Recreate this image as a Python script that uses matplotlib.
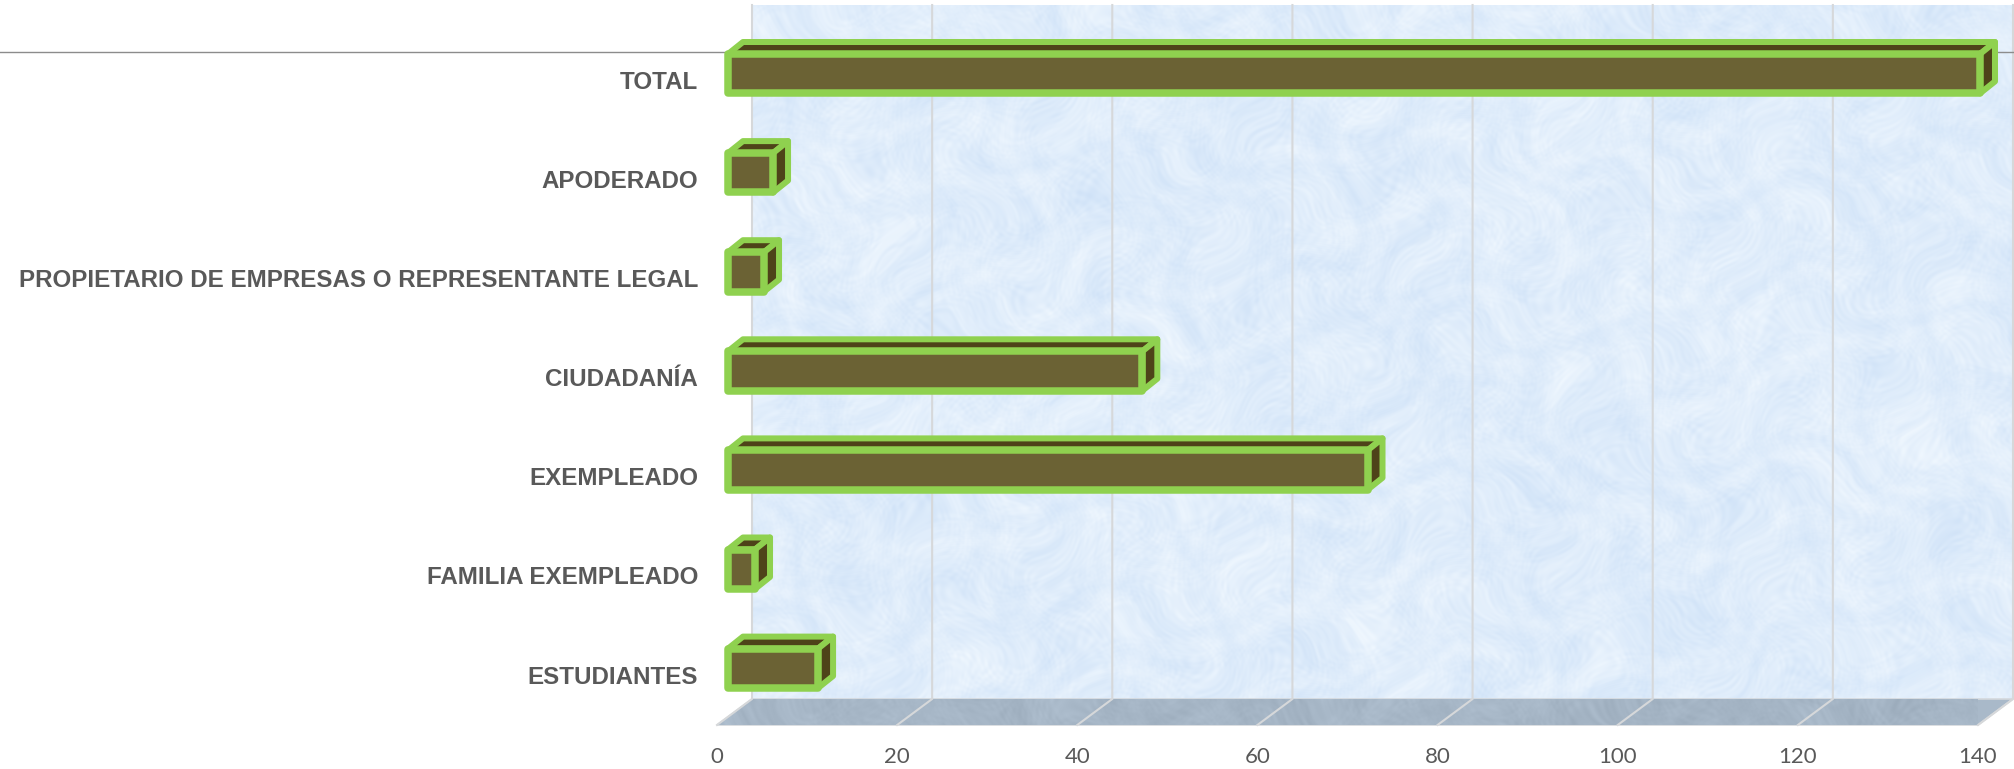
import numpy as np
import matplotlib
matplotlib.use("Agg")
import matplotlib.pyplot as plt
from matplotlib.patches import Polygon
from matplotlib.font_manager import FontProperties

categories = ["ESTUDIANTES", "FAMILIA EXEMPLEADO", "EXEMPLEADO", "CIUDADANÍA",
              "PROPIETARIO DE EMPRESAS O REPRESENTANTE LEGAL", "APODERADO", "TOTAL"]
values = [10, 3, 71, 46, 4, 5, 139]
x_ticks = [0, 20, 40, 60, 80, 100, 120, 140]

W, H = 2015, 769
fig = plt.figure(figsize=(W / 100, H / 100), dpi=100, facecolor="white")
# plot region: front edge of the floor
L, R, B, T = 717, 1978, 725, 5
ax = fig.add_axes([L / W, 1 - B / H, (R - L) / W, (B - T) / H])
px_x = (R - L) / 140
px_y = 99.1
y_bot = -(B - 677.0) / px_y
y_top = 6 + (82.4 - T) / px_y
for s in ax.spines.values():
    s.set_visible(False)
ax.patch.set_visible(False)

wall_dx = 35 / px_x
wall_dy = 26 / px_y
wall_right = (2012 - L) / px_x


def smooth(a, k):
    """Box blur along both image axes."""
    ker = np.ones(k) / k
    a = np.apply_along_axis(lambda r: np.convolve(r, ker, mode="same"), 0, a)
    return np.apply_along_axis(lambda r: np.convolve(r, ker, mode="same"), 1, a)


def mottle(h, w):
    """Decorative paper-like mottling from warped sine waves (deterministic)."""
    pad = 12
    yy, xx = np.mgrid[0:h + 2 * pad, 0:w + 2 * pad].astype(float)
    wx = xx + 18 * np.sin(yy * .043 + 1.1) + 11 * np.sin(xx * .061 - yy * .027)
    wy = yy + 18 * np.sin(xx * .037 + .4) + 11 * np.sin(yy * .071 + xx * .023)
    blot = (np.sin(wx * .041 + 4 * np.sin(wy * .019)) * np.sin(wy * .047 + 4 * np.sin(wx * .017 + 2))
            + .8 * np.sin(wx * .113 + 3 * np.sin(wy * .073)) * np.sin(wy * .097 + 3 * np.sin(wx * .061)))
    fine = (np.sin(wx * .37 + 3 * np.sin(wy * .23)) * np.sin(wy * .41 + 3 * np.sin(wx * .27))
            + np.sin(wx * .71 + wy * .53) * np.sin(wy * .83 - wx * .37))
    blot = smooth(blot, 9)
    fine = smooth(fine, 3)
    return (blot / np.abs(blot).max())[pad:-pad, pad:-pad], (fine / np.abs(fine).max())[pad:-pad, pad:-pad]


h_px, w_px = B - 26 - T, 2012 - 752
m, fine = mottle(h_px, w_px)
base = np.array([224, 237, 251]) / 255
tex = (base[None, None, :] + m[..., None] * (np.array([11, 7, 2]) / 255)[None, None, :]
       + fine[..., None] * (np.array([7, 5, 2]) / 255)[None, None, :])
ax.imshow(np.clip(tex, 0, 1), extent=[wall_dx, wall_right, y_bot + wall_dy, y_top], aspect="auto",
          interpolation="bilinear", zorder=0, clip_on=False)

# floor
floor = Polygon([(0, y_bot), (140, y_bot), (140 + wall_dx, y_bot + wall_dy),
                 (wall_dx, y_bot + wall_dy)], closed=True, facecolor="#A9B9C9",
                edgecolor="#D4D8DC", lw=1.2, zorder=1, clip_on=False)
ax.add_patch(floor)
m2, f2 = mottle(26, 1295)
ftex = np.array([166, 182, 198])[None, None, :] / 255 + (m2 + f2)[..., None] * 6 / 255
fim = ax.imshow(np.clip(ftex, 0, 1), extent=[0, 140 + wall_dx, y_bot, y_bot + wall_dy],
                aspect="auto", interpolation="bilinear", zorder=1.1)
fim.set_clip_path(floor)
ax.set_xlim(0, 140)
ax.set_ylim(y_bot, y_top)

# grid lines: on the floor and up the back wall
grid_c = "#D6D8DA"
for t in x_ticks:
    ax.plot([t, t + wall_dx, t + wall_dx], [y_bot, y_bot + wall_dy, y_top],
            color=grid_c, lw=1.5, zorder=2, clip_on=False, solid_joinstyle="miter")

# gray rule running behind the TOTAL bar, edge to edge
rule_y = y_bot + (B - 51.7) / px_y
ax.plot([-L / px_x, (W - L) / px_x], [rule_y, rule_y], color="#8C8C8C", lw=1.0,
        zorder=2.5, clip_on=False)

# 3D bars
x0 = 11.0 / px_x
hh = 19.7 / px_y
off = 8.7 / px_y
ddx = 15 / px_x
ddy = 12 / px_y
EDGE, FRONT, DARK = "#8FD14F", "#6B6234", "#4E4319"
for i, v in enumerate(values):
    x1 = x0 + v
    y0, y1 = i + off - hh, i + off + hh
    kw = dict(closed=True, edgecolor=EDGE, joinstyle="round", zorder=3, clip_on=False)
    ax.add_patch(Polygon([(x0, y1), (x1, y1), (x1 + ddx, y1 + ddy), (x0 + ddx, y1 + ddy)],
                         facecolor=DARK, lw=6 * .72, **kw))
    ax.add_patch(Polygon([(x1, y0), (x1 + ddx, y0 + ddy), (x1 + ddx, y1 + ddy), (x1, y1)],
                         facecolor=DARK, lw=6 * .72, **kw))
    ax.add_patch(Polygon([(x0, y0), (x1, y0), (x1, y1), (x0, y1)], facecolor=FRONT,
                         lw=7.5 * .72, **kw))

# axes ticks
ax.set_xticks(x_ticks)
ax.set_xticklabels([str(t) for t in x_ticks], fontfamily="Lato", fontsize=16, color="#595959")
ax.set_yticks(range(len(categories)))
ax.set_yticklabels(categories, fontproperties=FontProperties(family="Liberation Sans",
                   weight="bold", size=17.4), color="#595959", va="center")
ax.tick_params(axis="x", length=0, pad=15.5)
ax.tick_params(axis="y", length=0, pad=13.7)

fig.savefig("out.png", dpi=100, facecolor="white")
